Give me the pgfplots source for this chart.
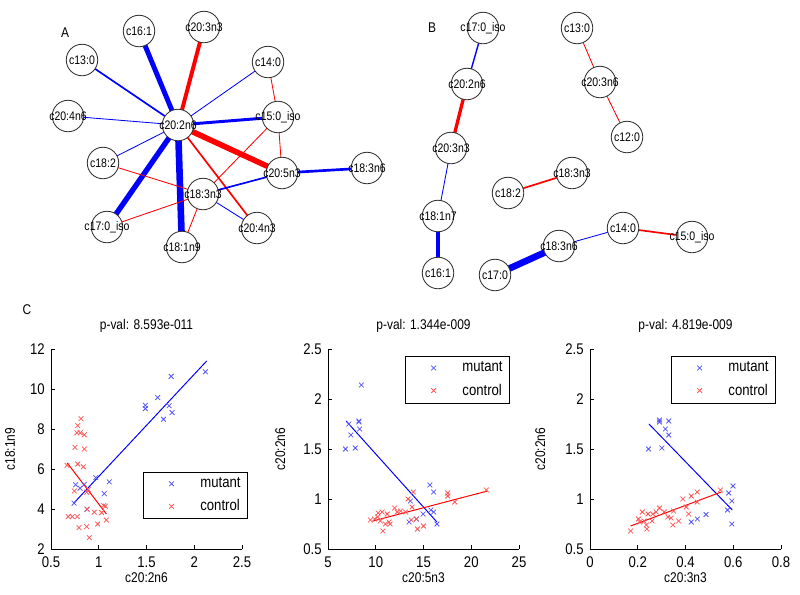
\documentclass[border=0pt]{standalone}
\usepackage{fontspec}
\setmainfont[FakeStretch=0.85]{Liberation Sans}
\usepackage{pgfplots}
\pgfplotsset{compat=1.18}
\definecolor{mblue}{RGB}{85,85,255}
\definecolor{mred}{RGB}{255,85,85}
\definecolor{ncirc}{RGB}{50,50,50}
\newcommand{\nfont}{\fontsize{8.8}{10}\selectfont}
\newcommand{\afont}{\fontsize{10}{12}\selectfont}
\newcommand{\tfont}{\fontsize{11}{13}\selectfont}
\newcommand{\lfont}{\fontsize{11}{13}\selectfont}
\pgfplotsset{
  eb/.style={blue, line width=#1},
  er/.style={red, line width=#1},
  scat/.style={scale only axis, width=4.775cm, height=5cm, anchor=south west,
    axis x line*=bottom, axis y line*=left, axis line style={-, line width=0.5pt},
    tick align=inside, major tick length=0.1cm, tick style={black, line width=0.5pt},
    tick label style={font=\tfont}, label style={font=\afont},
    xticklabel style={yshift=-2pt}, yticklabel style={xshift=-1pt},
    title style={font=\afont, at={(0.5,1.075)}, anchor=center},
    xlabel style={at={(axis description cs:0.5,-0.145)}, anchor=center},
    /pgf/number format/assume math mode=true,
    legend cell align=left,
    legend style={font=\lfont, draw=black, line width=0.5pt, inner xsep=3pt, inner ysep=2pt, row sep=3pt},
    legend image code/.code={\path[draw=none] (0,0) -- (1.25cm,0); \draw[##1] plot coordinates {(0.6cm,0cm)};},
  },
  mut/.style={only marks, mark=x, mark size=2.4pt, mblue, mark options={line width=0.55pt}},
  con/.style={only marks, mark=x, mark size=2.4pt, mred, mark options={line width=0.55pt}},
}
\begin{document}
\begin{tikzpicture}
\begin{axis}[at={(0,0)}, anchor=south west, scale only axis, width=20cm, height=14.85cm,
  hide axis, xmin=0, xmax=800, ymin=0, ymax=594, y dir=reverse, clip=false]
% ---- network A edges
\addplot[er=2.8pt] coordinates {(178,125) (204,27)};
\addplot[eb=3.5pt] coordinates {(178,125) (139,31)};
\addplot[eb=1.2pt] coordinates {(178,125) (82,60)};
\addplot[eb=0.6pt] coordinates {(178,125) (268,62)};
\addplot[eb=0.6pt] coordinates {(178,125) (68,116)};
\addplot[eb=2.1pt] coordinates {(178,125) (278,117)};
\addplot[er=4pt] coordinates {(178,125) (282,173)};
\addplot[eb=0.6pt] coordinates {(178,125) (103,163)};
\addplot[eb=3.8pt] coordinates {(178,125) (107,227)};
\addplot[eb=4.7pt] coordinates {(178,125) (182,247)};
\addplot[er=1.2pt] coordinates {(178,125) (257,228)};
\addplot[er=0.6pt] coordinates {(268,62) (278,117)};
\addplot[er=0.6pt] coordinates {(278,117) (282,173)};
\addplot[er=0.6pt] coordinates {(278,117) (203,194)};
\addplot[eb=1.9pt] coordinates {(282,173) (367,168)};
\addplot[eb=1.2pt] coordinates {(282,173) (203,194)};
\addplot[er=0.6pt] coordinates {(103,163) (203,194)};
\addplot[er=0.6pt] coordinates {(107,227) (203,194)};
\addplot[er=0.6pt] coordinates {(203,194) (182,247)};
\addplot[eb=0.6pt] coordinates {(203,194) (257,228)};
% ---- network B edges
\addplot[eb=1pt] coordinates {(483,28) (467,84)};
\addplot[er=2.4pt] coordinates {(467,84) (451,148)};
\addplot[eb=0.6pt] coordinates {(451,148) (438,216)};
\addplot[eb=2.8pt] coordinates {(438,216) (438,273)};
\addplot[er=0.6pt] coordinates {(577,28) (600,82)};
\addplot[er=0.6pt] coordinates {(600,82) (627,137)};
\addplot[er=1.2pt] coordinates {(508,193) (572,173)};
\addplot[eb=0.6pt] coordinates {(559,246) (623,228)};
\addplot[er=1.2pt] coordinates {(623,228) (692,237)};
\addplot[eb=4.7pt] coordinates {(495,275) (559,246)};
% ---- circles
\addplot[only marks, mark=*, mark size=11.2pt, mark options={fill=white, draw=ncirc, line width=0.6pt}] coordinates {
(204,27) (139,31) (82,60) (268,62) (68,116) (178,125) (278,117) (103,163) (282,173) (367,168) (203,194) (107,227) (257,228) (182,247)
(483,28) (467,84) (451,148) (438,216) (438,273) (577,28) (600,82) (627,137) (508,193) (572,173) (623,228) (692,237) (559,246) (495,275)};
% ---- labels
\addplot[only marks, mark=none, nodes near coords, point meta=explicit symbolic,
  every node near coord/.append style={anchor=center, font=\nfont, inner sep=0pt, black}] coordinates {
(204,27) [c20:3n3] (139,31) [c16:1] (82,60) [c13:0] (268,62) [c14:0] (68,116) [c20:4n6] (178,125) [c20:2n6]
(278,117) [c15:0\_iso] (103,163) [c18:2] (282,173) [c20:5n3] (367,168) [c18:3n6] (203,194) [c18:3n3]
(107,227) [c17:0\_iso] (257,228) [c20:4n3] (182,247) [c18:1n9]
(483,28) [c17:0\_iso] (467,84) [c20:2n6] (451,148) [c20:3n3] (438,216) [c18:1n7] (438,273) [c16:1]
(577,28) [c13:0] (600,82) [c20:3n6] (627,137) [c12:0] (508,193) [c18:2] (572,173) [c18:3n3]
(623,228) [c14:0] (692,237) [c15:0\_iso] (559,246) [c18:3n6] (495,275) [c17:0]};
\node[font=\afont] at (axis cs:65,33) {A};
\node[font=\afont] at (axis cs:432,28) {B};
\node[font=\afont] at (axis cs:27,310) {C};
\end{axis}

% ---- scatter 1
\begin{axis}[scat, at={(1.275cm,1.125cm)}, xmin=0.5, xmax=2.5, ymin=2, ymax=12,
  xtick={0.5,1,1.5,2,2.5}, ytick={2,4,6,8,10,12},
  title={p-val: 8.593e-011}, xlabel={c20:2n6}, ylabel={c18:1n9},
  ylabel style={at={(axis description cs:-0.215,0.5)}, anchor=center},
  legend style={at={(1.031,0.15)}, anchor=south east}]
\addplot[mut] coordinates {(2.117,10.86) (1.758,10.63) (1.617,9.57) (1.488,9.19) (1.488,9.02) (1.737,9.16) (1.768,8.82) (1.678,8.49) (0.741,4.29) (0.758,5.21) (0.804,5.04) (0.848,5.23) (0.968,5.57) (1.11,5.36) (1.058,4.77) (0.877,3.99)};
\addlegendentry{mutant}
\addplot[con] coordinates {(0.814,8.52) (0.78,8.17) (0.772,7.81) (0.807,7.81) (0.849,7.71) (0.751,7.08) (0.849,7.0) (0.78,6.25) (0.838,6.11) (0.668,6.18) (0.745,4.9) (0.874,4.84) (0.68,3.62) (0.723,3.62) (0.775,3.62) (0.793,3.07) (0.874,3.12) (0.90,2.57) (0.989,3.25) (0.953,3.84) (1.052,4.17) (1.03,3.82) (1.079,3.45) (0.877,3.99) (1.07,4.14) (0.89,4.98)};
\addlegendentry{control}
\addplot[blue, line width=0.7pt, forget plot] coordinates {(0.74,4.3) (2.13,11.4)};
\addplot[red, line width=0.7pt, forget plot] coordinates {(0.67,6.3) (1.08,3.75)};
\end{axis}

% ---- scatter 2
\begin{axis}[scat, at={(8.2cm,1.125cm)}, xmin=5, xmax=25, ymin=0.5, ymax=2.5,
  xtick={5,10,15,20,25}, ytick={0.5,1,1.5,2,2.5},
  title={p-val: 1.344e-009}, xlabel={c20:5n3}, ylabel={c20:2n6},
  ylabel style={at={(axis description cs:-0.25,0.5)}, anchor=center},
  legend style={at={(0.953,0.965)}, anchor=north east}]
\addplot[mut] coordinates {(8.49,2.14) (7.18,1.75) (8.24,1.78) (8.24,1.77) (7.39,1.64) (8.31,1.70) (6.83,1.50) (7.85,1.51) (15.67,1.14) (16.06,1.07) (13.63,0.98) (15.77,0.89) (14.96,0.85) (13.49,0.77) (14.26,0.80) (16.41,0.75) (16.06,0.87)};
\addlegendentry{mutant}
\addplot[con] coordinates {(21.58,1.09) (17.54,1.06) (17.54,1.03) (18.27,0.97) (13.94,1.07) (13.38,1.0) (13.80,0.92) (11.97,0.91) (12.25,0.87) (13.13,0.87) (10.25,0.86) (10.67,0.87) (11.20,0.85) (9.44,0.79) (9.89,0.80) (10.49,0.78) (11.4,0.77) (11.0,0.75) (11.5,0.75) (10.74,0.68) (13.73,0.79) (14.26,0.80) (15.0,0.73) (14.37,0.70) (12.6,0.88) (10.2,0.82)};
\addlegendentry{control}
\addplot[blue, line width=0.7pt, forget plot] coordinates {(6.9,1.78) (16.4,0.77)};
\addplot[red, line width=0.7pt, forget plot] coordinates {(9.7,0.78) (21.7,1.08)};
\end{axis}

% ---- scatter 3
\begin{axis}[scat, at={(14.75cm,1.125cm)}, xmin=0, xmax=0.8, ymin=0.5, ymax=2.5,
  xtick={0,0.2,0.4,0.6,0.8}, ytick={0.5,1,1.5,2,2.5},
  title={p-val: 4.819e-009}, xlabel={c20:3n3}, ylabel={c20:2n6},
  ylabel style={at={(axis description cs:-0.26,0.5)}, anchor=center},
  legend style={at={(0.974,0.965)}, anchor=north east}]
\addplot[mut] coordinates {(0.291,1.79) (0.291,1.77) (0.330,1.78) (0.316,1.70) (0.330,1.64) (0.245,1.50) (0.301,1.51) (0.599,1.13) (0.581,1.06) (0.594,0.98) (0.576,0.89) (0.594,0.75) (0.486,0.845) (0.450,0.80) (0.424,0.77)};
\addlegendentry{mutant}
\addplot[con] coordinates {(0.546,1.09) (0.449,1.07) (0.424,1.03) (0.389,1.0) (0.449,0.97) (0.403,0.92) (0.291,0.91) (0.311,0.87) (0.340,0.81) (0.347,0.74) (0.371,0.78) (0.413,0.85) (0.219,0.87) (0.243,0.85) (0.263,0.85) (0.277,0.87) (0.203,0.80) (0.227,0.78) (0.26,0.78) (0.170,0.68) (0.236,0.74) (0.238,0.70) (0.208,0.77) (0.326,0.82) (0.35,0.88)};
\addlegendentry{control}
\addplot[blue, line width=0.7pt, forget plot] coordinates {(0.247,1.75) (0.596,0.89)};
\addplot[red, line width=0.7pt, forget plot] coordinates {(0.17,0.73) (0.55,1.07)};
\end{axis}
\pgfresetboundingbox
\path (0,0) rectangle (20cm,14.85cm);
\end{tikzpicture}
\end{document}
